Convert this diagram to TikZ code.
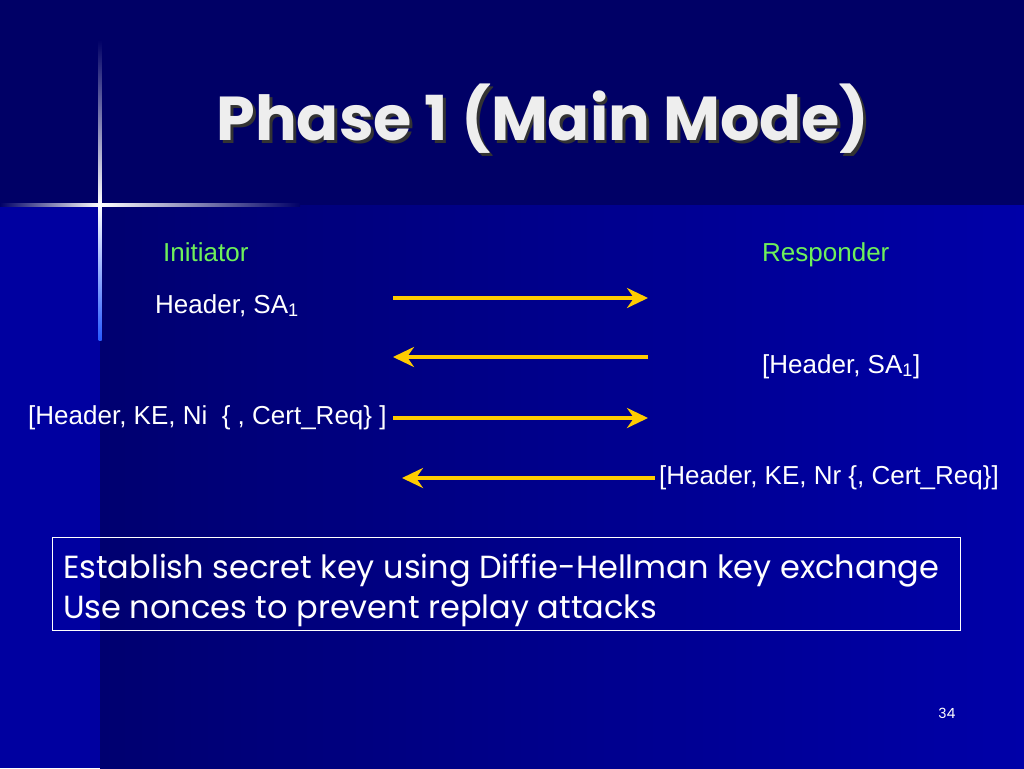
\documentclass[tikz,border=0pt]{standalone}
\usepackage{fontspec}
\setmainfont{Liberation Sans}
\newfontfamily\comicfont{Poppins}
\usetikzlibrary{arrows.meta}
\definecolor{navytop}{RGB}{0,0,102}
\definecolor{navylow}{RGB}{0,0,112}
\definecolor{bluelow}{RGB}{0,0,168}
\definecolor{bluestrip}{RGB}{0,0,160}
\definecolor{glowblue}{RGB}{40,90,255}
\definecolor{msggold}{RGB}{255,204,0}
\definecolor{rolegreen}{RGB}{110,240,90}
\definecolor{titlegrey}{RGB}{238,238,238}
\newcommand{\shadowtext}[1]{\makebox[0pt][l]{\hspace{3pt}\raisebox{-3pt}{\color{black!80}#1}}#1}
\tikzset{
  msg/.style={draw=msggold, line width=4pt, -{Stealth[length=21pt,width=20pt,inset=7pt]}},
  role/.style={text=rolegreen, font=\fontsize{26}{30}\selectfont, anchor=base west, inner sep=0pt},
  label/.style={text=white, font=\fontsize{26}{30}\selectfont, anchor=base west, inner sep=0pt},
  note/.style={text=white, font=\comicfont\fontsize{32}{36}\selectfont, anchor=base west, inner sep=0pt}
}
\begin{document}
\begin{tikzpicture}[x=1pt,y=-1pt]
    \useasboundingbox (0,0) rectangle (1024,768);
    % background
    \fill[navytop] (0,0) rectangle (1024,205);
    \shade[left color=navylow, right color=bluelow] (100,205) rectangle (1024,768);
    \fill[bluestrip] (0,205) rectangle (100,768);
    % star
    \shade[left color=navytop, right color=white] (0,203.5) rectangle (100,206.5);
    \shade[left color=white, right color=navytop] (100,203.5) rectangle (300,206.5);
    \shade[top color=navytop, bottom color=white] (98.5,40) rectangle (101.5,205);
    \shade[top color=white, bottom color=glowblue] (98.5,205) rectangle (101.5,340);
    % title
    \node (title) at (543,120) [text=titlegrey, font=\comicfont\bfseries\fontsize{62}{70}\selectfont] {\shadowtext{Phase 1 (Main Mode)}};
    % roles
    \node (initiator) at (163,261) [role] {Initiator};
    \node (responder) at (762,261) [role] {Responder};
    % messages
    \node (msga) at (155,313) [label] {Header, SA\textsubscript{1}};
    \node (msgb) at (762,373) [label] {[Header, SA\textsubscript{1}]};
    \node (msgc) at (28,424) [label] {[Header, KE, Ni\ \ \{ , Cert\_Req\} ]};
    \node (msgd) at (659,484) [label] {[Header, KE, Nr \{, Cert\_Req\}]};
    \coordinate (ia) at (393,298);  \coordinate (ra) at (648,298);
    \coordinate (ib) at (393,357);  \coordinate (rb) at (648,357);
    \coordinate (ic) at (393,418);  \coordinate (rc) at (648,418);
    \coordinate (id) at (402,478);  \coordinate (rd) at (655,478);
    \draw[msg] (ia) -- (ra);
    \draw[msg] (rb) -- (ib);
    \draw[msg] (ic) -- (rc);
    \draw[msg] (rd) -- (id);
    % notes
    \node (notebox) at (506,583.5) [draw=white, line width=1pt, minimum width=908pt, minimum height=93pt] {};
    \node (notea) at (63,578) [note] {Establish secret key using Diffie-Hellman key exchange};
    \node (noteb) at (63,618) [note] {Use nonces to prevent replay attacks};
    \node (pageno) at (947,713) [text=white, font=\comicfont\fontsize{14}{16}\selectfont] {34};
\end{tikzpicture}
\end{document}
